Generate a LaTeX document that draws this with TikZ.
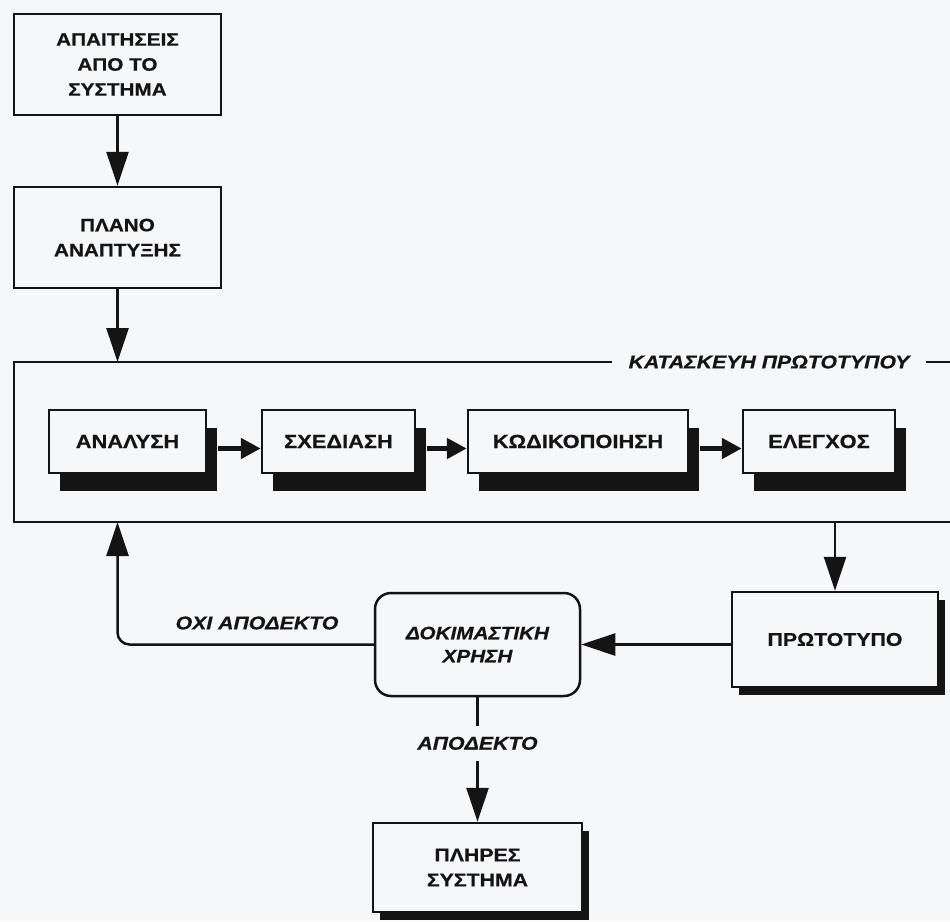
\documentclass[tikz,border=0pt]{standalone}
\usepackage{fontspec}
\setmainfont{Liberation Sans}
\newfontfamily\boxfont{Liberation Sans}[FakeStretch=1.15,FakeBold=0.6]
\usetikzlibrary{arrows.meta,shadows,calc}
\definecolor{paper}{HTML}{F6F7F9}
\definecolor{ink}{HTML}{141414}

\begin{document}
\begin{tikzpicture}[x=1pt,y=-1pt,
  every node/.style={align=center, text=ink},
  box/.style={draw=ink, line width=2.5pt, fill=paper, inner sep=0pt},
  plainbox/.style={box, minimum width=207pt, minimum height=101pt,
    font=\boxfont\bfseries\fontsize{18}{25}\selectfont},
  stage/.style={box, minimum height=63pt,
    font=\boxfont\bfseries\fontsize{19}{22}\selectfont,
    drop shadow={shadow xshift=11pt, shadow yshift=-18pt, opacity=1, fill=ink}},
  result/.style={box, font=\boxfont\bfseries\fontsize{18.5}{25}\selectfont,
    drop shadow={shadow xshift=7pt, shadow yshift=-8pt, opacity=1, fill=ink}},
  tag/.style={font=\boxfont\bfseries\itshape\fontsize{18.5}{23}\selectfont},
  flow/.style={draw=ink, line width=2.5pt, -{Triangle[length=34pt,width=22pt]}},
  step arrow/.style={draw=ink, line width=5pt, -{Triangle[length=20pt,width=20pt]}},
  outline/.style={draw=ink, line width=2.5pt}
]
% page
\fill[paper] (0,0) rectangle (950,921);
\useasboundingbox (0,0) rectangle (950,921);

% top of the process
\node[plainbox] (req) at (117.5,64.5) {ΑΠΑΙΤΗΣΕΙΣ\\ΑΠΟ ΤΟ\\ΣΥΣΤΗΜΑ};
\node[plainbox] (plan) at (117.5,237.5) {ΠΛΑΝΟ\\ΑΝΑΠΤΥΞΗΣ};
\draw[flow] (req.south) -- (plan.south |- plan.north);

% prototype construction frame (open to the right)
\coordinate (ctl) at (14,362);
\coordinate (cbl) at (14,522);
\coordinate (cbr) at (950,522);
\coordinate (ctr) at (950,362);
\node[tag, fill=paper, inner xsep=16pt, inner ysep=2pt] (kat) at (769,362) {ΚΑΤΑΣΚΕΥΗ ΠΡΩΤΟΤΥΠΟΥ};
\draw[outline] (kat.west |- ctl) -- (ctl) -- (cbl) -- (cbr);
\draw[outline] (kat.east |- ctr) -- (ctr);
\draw[flow] (plan.south) -- (plan.south |- ctl);

% stages
\node[stage, minimum width=157pt] (an) at (127.5,441.5) {ΑΝΑΛΥΣΗ};
\node[stage, minimum width=153pt] (sx) at (338.5,441.5) {ΣΧΕΔΙΑΣΗ};
\node[stage, minimum width=220pt] (kw) at (578,441.5) {ΚΩΔΙΚΟΠΟΙΗΣΗ};
\node[stage, minimum width=152pt] (el) at (819,441.5) {ΕΛΕΓΧΟΣ};
\draw[step arrow] ([xshift=11pt,yshift=-7pt]an.east) -- ([yshift=-7pt]sx.west);
\draw[step arrow] ([xshift=11pt,yshift=-7pt]sx.east) -- ([yshift=-7pt]kw.west);
\draw[step arrow] ([xshift=11pt,yshift=-7pt]kw.east) -- ([yshift=-7pt]el.west);

% prototype and trial use
\node[result, minimum width=206pt, minimum height=95pt] (proto) at (835,639.5) {ΠΡΩΤΟΤΥΠΟ};
\draw[flow] (proto.north |- cbr) -- (proto.north);
\node[box, rounded corners=16pt, minimum width=205pt, minimum height=103pt,
  font=\boxfont\bfseries\itshape\fontsize{18}{23}\selectfont] (trial) at (477.5,644.5) {ΔΟΚΙΜΑΣΤΙΚΗ\\ΧΡΗΣΗ};
\draw[flow] (proto.west |- trial.east) -- (trial.east);

% not accepted: back to the frame
\draw[flow, rounded corners=12pt] (trial.west) -| (plan.south |- cbl);
\node[tag] (no) at (257,623) {ΟΧΙ ΑΠΟΔΕΚΤΟ};

% accepted: complete system
\node[result, minimum width=209pt, minimum height=89pt] (full) at (477.5,867.5) {ΠΛΗΡΕΣ\\ΣΥΣΤΗΜΑ};
\draw[flow] (trial.south) -- node[tag, pos=0.37, fill=paper, inner xsep=2pt, inner ysep=11pt] (yes) {ΑΠΟΔΕΚΤΟ} (full.north);
\end{tikzpicture}
\end{document}
